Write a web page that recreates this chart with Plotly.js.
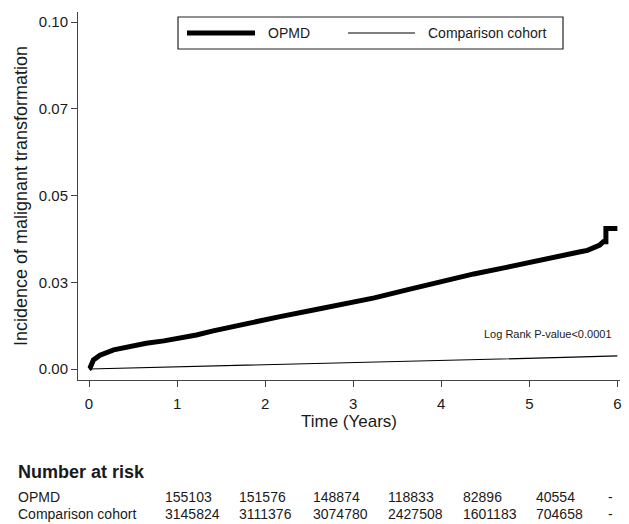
<!DOCTYPE html>
<html>
<head>
<meta charset="utf-8">
<script src="https://cdn.plot.ly/plotly-3.0.1.min.js"></script>
<style>
  html, body { margin: 0; padding: 0; background: #fff; }
  #chart { width: 629px; height: 524px; }
</style>
</head>
<body>
<div id="chart"></div>
<script>
// ---- data ----
const seriesNames = ["OPMD", "Comparison cohort"];

const opmdTime = [0, 0.01, 0.05, 0.125, 0.28, 0.45, 0.65, 0.85, 1.03, 1.22, 1.41, 1.79, 2.17, 2.55, 2.95, 3.24, 3.61, 3.99, 4.37, 4.74, 5.12, 5.43, 5.58, 5.66, 5.73, 5.77, 5.80, 5.84, 5.87, 5.87, 6.0];
const opmdInc  = [0, 0.0002, 0.0026, 0.0040, 0.0055, 0.0065, 0.0074, 0.0081, 0.0088, 0.0098, 0.0110, 0.0132, 0.0151, 0.0170, 0.0189, 0.0205, 0.0228, 0.0252, 0.0274, 0.0293, 0.0314, 0.0333, 0.0338, 0.0342, 0.0350, 0.0352, 0.0357, 0.0367, 0.0367, 0.0405, 0.0405];

const compTime = [0, 0.5, 1, 1.5, 2, 2.5, 3, 3.5, 4, 4.5, 5, 5.5, 6];
const compInc  = [0, 0.0003, 0.0006, 0.0009, 0.0013, 0.0016, 0.0018, 0.0020, 0.0023, 0.0026, 0.0030, 0.0034, 0.0038];

const xTickVals = [0, 1, 2, 3, 4, 5, 6];
const yTickVals = [0, 0.025, 0.05, 0.075, 0.10];
const yTickText = ["0.00", "0.03", "0.05", "0.07", "0.10"];

const riskTitle = "Number at risk";
const riskRowLabels = ["OPMD", "Comparison cohort"];
const riskOPMD = [155103, 151576, 148874, 118833, 82896, 40554, null];
const riskComp = [3145824, 3111376, 3074780, 2427508, 1601183, 704658, null];

const pValueText = "Log Rank P-value<0.0001";
const xTitle = "Time (Years)";
const yTitle = "Incidence of malignant transformation";

// ---- layout geometry (pixels) ----
const W = 629, H = 524;
const M = {l: 78, r: 9, t: 12, b: 144};
const PW = W - M.l - M.r, PH = H - M.t - M.b;
const px = x => (x - M.l) / PW;          // pixel x -> paper x
const py = y => (H - M.b - y) / PH;      // pixel y -> paper y

const FONT = "Liberation Sans, Arial, Helvetica, sans-serif";
const TXT = "#1a1a1a";
const AX = "#444";

const traces = [
  {x: opmdTime, y: opmdInc, name: seriesNames[0], mode: "lines",
   line: {color: "#000", width: 5, shape: "linear"}, hoverinfo: "skip"},
  {x: compTime, y: compInc, name: seriesNames[1], mode: "lines",
   line: {color: "#000", width: 1.2}, hoverinfo: "skip"}
];

const annotations = [];
const shapes = [];

// custom legend box
shapes.push({type: "rect", xref: "paper", yref: "paper",
  x0: px(178), x1: px(563), y0: py(17), y1: py(49),
  line: {color: "#222", width: 1.2}, fillcolor: "rgba(0,0,0,0)"});
shapes.push({type: "line", xref: "paper", yref: "paper",
  x0: px(187), x1: px(255), y0: py(33), y1: py(33), line: {color: "#000", width: 5}});
shapes.push({type: "line", xref: "paper", yref: "paper",
  x0: px(348), x1: px(415), y0: py(33), y1: py(33), line: {color: "#000", width: 1.2}});
annotations.push({text: seriesNames[0], xref: "paper", yref: "paper", x: px(266), y: py(33),
  xanchor: "left", yanchor: "middle", showarrow: false, font: {size: 14, color: TXT, family: FONT}});
annotations.push({text: seriesNames[1], xref: "paper", yref: "paper", x: px(426), y: py(33),
  xanchor: "left", yanchor: "middle", showarrow: false, font: {size: 14, color: TXT, family: FONT}});

// p-value note
annotations.push({text: pValueText, xref: "paper", yref: "paper", x: px(614), y: py(334),
  xanchor: "right", yanchor: "middle", showarrow: false, font: {size: 11, color: TXT, family: FONT}});

// number at risk table
annotations.push({text: "<b>" + riskTitle + "</b>", xref: "paper", yref: "paper", x: px(16), y: py(472),
  xanchor: "left", yanchor: "middle", showarrow: false, font: {size: 18, color: TXT, family: FONT}});
const colX = [163, 237, 311, 386, 461, 534, 606];
const rowY = [497, 514];
[riskOPMD, riskComp].forEach((row, r) => {
  annotations.push({text: riskRowLabels[r], xref: "paper", yref: "paper", x: px(16), y: py(rowY[r]),
    xanchor: "left", yanchor: "middle", showarrow: false, font: {size: 14, color: TXT, family: FONT}});
  row.forEach((v, i) => {
    annotations.push({text: v === null ? "-" : String(v), xref: "paper", yref: "paper",
      x: px(colX[i]), y: py(rowY[r]), xanchor: "left", yanchor: "middle", showarrow: false,
      font: {size: 14, color: TXT, family: FONT}});
  });
});

const layout = {
  width: W, height: H,
  margin: M,
  paper_bgcolor: "#fff", plot_bgcolor: "#fff",
  showlegend: false,
  font: {family: FONT, color: TXT},
  xaxis: {
    range: [-0.125, 6.03], tickvals: xTickVals, ticktext: xTickVals.map(String),
    showgrid: false, zeroline: false, showline: true, linecolor: AX, linewidth: 1,
    ticks: "outside", ticklen: 6, tickcolor: AX, tickwidth: 1, ticklabelstandoff: 4,
    tickfont: {size: 15, color: TXT, family: FONT},
    title: {text: xTitle, font: {size: 17, color: TXT, family: FONT}, standoff: 3},
    automargin: false, fixedrange: true
  },
  yaxis: {
    range: [-0.00317, 0.1029], tickvals: yTickVals, ticktext: yTickText,
    showgrid: false, zeroline: false, showline: true, linecolor: AX, linewidth: 1,
    ticks: "outside", ticklen: 6, tickcolor: AX, tickwidth: 1,
    tickfont: {size: 15, color: TXT, family: FONT},
    title: {text: yTitle, font: {size: 18, color: TXT, family: FONT}, standoff: 6},
    automargin: false, fixedrange: true
  },
  annotations: annotations,
  shapes: shapes
};

Plotly.newPlot("chart", traces, layout, {staticPlot: true, displayModeBar: false});
</script>
</body>
</html>
